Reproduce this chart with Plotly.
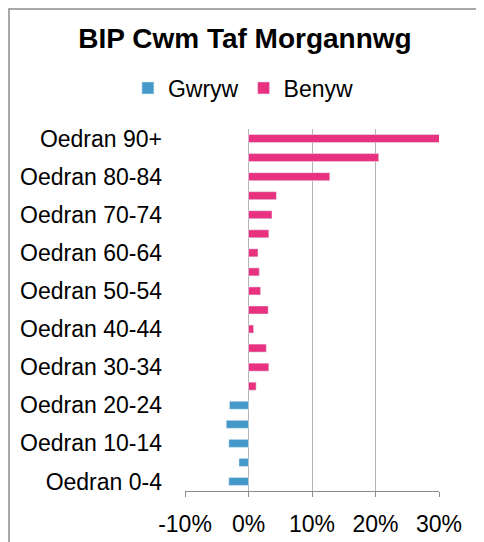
import plotly.graph_objects as go

# age bands, youngest first (bottom of chart)
categories = ["Oedran 0-4", "Oedran 5-9", "Oedran 10-14", "Oedran 15-19", "Oedran 20-24",
              "Oedran 25-29", "Oedran 30-34", "Oedran 35-39", "Oedran 40-44", "Oedran 45-49",
              "Oedran 50-54", "Oedran 55-59", "Oedran 60-64", "Oedran 65-69", "Oedran 70-74",
              "Oedran 75-79", "Oedran 80-84", "Oedran 85-89", "Oedran 90+"]
gwryw = [-0.031, -0.015, -0.031, -0.035, -0.030,
         None, None, None, None, None, None, None, None, None, None, None, None, None, None]
benyw = [None, None, None, None, None,
         0.012, 0.032, 0.028, 0.008, 0.031, 0.019, 0.017, 0.015, 0.032, 0.037,
         0.044, 0.128, 0.205, 0.302]
shown_labels = categories[::2]
x_ticks = [-0.1, 0, 0.1, 0.2, 0.3]
x_ticktext = ["-10%", "0%", "10%", "20%", "30%"]

FONT = "Liberation Sans, Arial, sans-serif"

# the page body adds 8px, so margins are shifted to keep the plot in place
L, T, PW, PH = 177, 121, 254, 362
W, H = 484, 542

fig = go.Figure()
fig.add_trace(go.Bar(y=categories, x=gwryw, orientation="h", name="Gwryw",
                     marker_color="#4599c9", width=0.42))
fig.add_trace(go.Bar(y=categories, x=benyw, orientation="h", name="Benyw",
                     marker_color="#e8317f", width=0.42))

fig.update_layout(
    width=W, height=H,
    margin=dict(l=L, r=W - L - PW, t=T, b=H - T - PH, autoexpand=False),
    paper_bgcolor="white", plot_bgcolor="white",
    barmode="overlay",
    font=dict(family=FONT, size=23, color="#000"),
    title=dict(text="<b>BIP Cwm Taf Morgannwg</b>", x=(245 - 8) / W, xanchor="center",
               y=1 - 30 / H, yanchor="middle", font=dict(size=28, family=FONT)),
    legend=dict(orientation="h", x=0.23, xanchor="center", y=1 + 41 / PH, yanchor="middle",
                font=dict(size=23), itemwidth=30, traceorder="normal"),
    xaxis=dict(range=[-0.1, 0.3], tickvals=x_ticks, ticktext=x_ticktext,
               showgrid=True, gridcolor="#b4b4b4", gridwidth=1,
               zeroline=False, showline=True, linecolor="#8c8c8c",
               ticks="outside", ticklen=5, tickcolor="#8c8c8c",
               ticklabelstandoff=7, automargin=False, fixedrange=True),
    yaxis=dict(type="category", categoryorder="array", categoryarray=categories,
               range=[-0.5, len(categories) - 0.5], tickvals=shown_labels,
               showgrid=False, zeroline=False, showline=False, ticks="",
               ticklabelstandoff=22, automargin=False),
    yaxis2=dict(overlaying="y", anchor="free", position=0.25, side="left",
                range=[-0.5, len(categories) - 0.5], tick0=0.5, dtick=1,
                ticks="outside", ticklen=8, tickcolor="#8c8c8c",
                showticklabels=False, showgrid=False, zeroline=False,
                showline=True, linecolor="#8c8c8c", automargin=False),
)

# chart border
fig.add_shape(type="rect", xref="paper", yref="paper",
              x0=(1 - L) / PW, x1=(W + 10 - L) / PW,
              y0=(T + PH - H - 10) / PH, y1=(T + PH - 1) / PH,
              line=dict(color="#8c8c8c", width=1.5), layer="below")

fig.write_html("out.html")
